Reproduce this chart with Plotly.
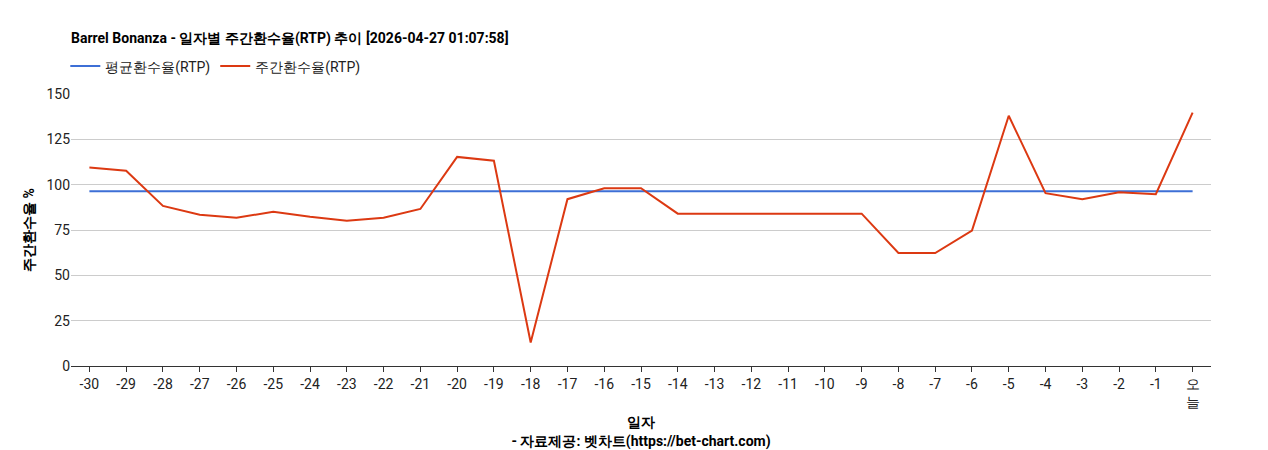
import plotly.graph_objects as go

days = [str(d) for d in range(-30, 0)] + ["오늘"]
tick_text = [str(d) for d in range(-30, 0)] + ["오<br>늘"]
weekly_rtp = [109.4, 107.7, 88.3, 83.4, 81.8, 85.0, 82.3, 80.1, 81.8, 86.6,
              115.3, 113.2, 13.0, 92.0, 98.0, 98.0, 84.0, 84.0, 84.0, 84.2,
              84.2, 84.0, 62.3, 62.3, 74.7, 138.0, 95.3, 92.0, 95.8, 94.7, 139.7]
avg_rtp = 96.4

fig = go.Figure()
fig.add_trace(go.Scatter(x=days, y=[avg_rtp] * len(days), mode="lines",
                         name="평균환수율(RTP)", line=dict(color="#3d6fd6", width=2)))
fig.add_trace(go.Scatter(x=days, y=weekly_rtp, mode="lines",
                         name="주간환수율(RTP)", line=dict(color="#dc3912", width=2)))

fig.update_layout(
    width=1268, height=450,
    font=dict(family="Roboto, Arial, sans-serif", size=14, color="#222"),
    title=dict(text="<b>Barrel Bonanza - 일자별 주간환수율(RTP) 추이 [2026-04-27 01:07:58]</b>",
               xref="paper", x=0, xanchor="left", y=0.933, yanchor="middle",
               font=dict(size=14, color="#000")),
    legend=dict(orientation="h", x=-0.005, xanchor="left", y=1.16, yanchor="top",
                font=dict(size=14, color="#222"), traceorder="normal"),
    plot_bgcolor="white", paper_bgcolor="white",
    margin=dict(l=63, r=65, t=86, b=87),
    showlegend=True,
)
fig.update_xaxes(type="category", tickvals=days, ticktext=tick_text, range=[-0.5, 30.5],
                 showline=True, linecolor="#333", ticks="outside", ticklen=5, tickcolor="#333",
                 title=dict(text="<b>일자</b><br><b>- 자료제공: 벳차트(https://bet-chart.com)</b>",
                            standoff=8, font=dict(size=14, color="#000")))
fig.update_yaxes(range=[0, 150], dtick=25, gridcolor="#ccc", zeroline=False,
                 title=dict(text="<b>주간환수율 %</b>", font=dict(size=14, color="#000"), standoff=8))

fig.write_html("out.html")
